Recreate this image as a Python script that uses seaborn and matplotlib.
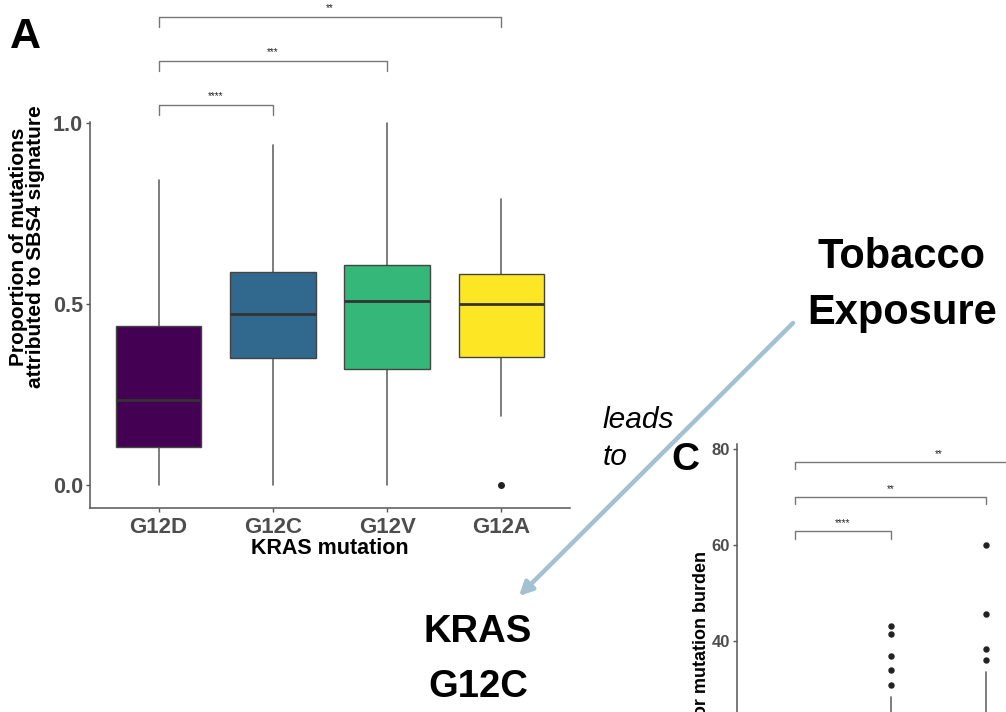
import numpy as np
import matplotlib
matplotlib.use("Agg")
import matplotlib.pyplot as plt
from matplotlib.patches import FancyArrowPatch
import seaborn as sns

# panel A data
mutations = ["G12D", "G12C", "G12V", "G12A"]
a_q1 = [0.106, 0.350, 0.320, 0.353]
a_med = [0.235, 0.472, 0.508, 0.500]
a_q3 = [0.440, 0.589, 0.609, 0.583]
a_lo = [0.0, 0.0, 0.0, 0.19]
a_hi = [0.843, 0.939, 1.0, 0.789]
a_fliers = [[], [], [], [0.0]]
a_yticks = [0.0, 0.5, 1.0]
a_pairs = [(0, 1, "****"), (0, 2, "***"), (0, 3, "**")]
a_bracket_y = [1.05, 1.171, 1.293]

# panel C data (only the top part is visible)
c_q1 = [2, 3, 3, 3]
c_med = [4, 7, 7, 6]
c_q3 = [8, 13, 14, 11]
c_lo = [0, 0, 0, 0]
c_hi = [22, 28.2, 33.4, 25]
c_fliers = [[], [43.0, 41.5, 36.9, 34.0, 30.7], [59.9, 45.6, 38.3, 36.1], []]
c_yticks = [40, 60, 80]
c_pairs = [(0, 1, "****"), (0, 2, "**"), (0, 3, "**")]
c_bracket_y = [62.8, 70.0, 77.3]

sns.set_theme(style="ticks")
plt.rcParams["font.family"] = ["Liberation Sans", "DejaVu Sans"]
plt.rcParams["text.color"] = "black"
plt.rcParams["axes.labelcolor"] = "black"

W, H = 1006, 712
fig = plt.figure(figsize=(W / 100, H / 100), dpi=100)
pal = plt.cm.viridis(np.linspace(0, 1, 4))
tick_col = "#4D4D4D"
line_col = "#555555"


def stats(q1, med, q3, lo, hi, fl):
    return [dict(q1=q1[i], med=med[i], q3=q3[i], whislo=lo[i], whishi=hi[i],
                 fliers=fl[i], label=mutations[i]) for i in range(len(q1))]


def draw_boxes(ax, st, ms):
    bp = ax.bxp(st, positions=range(4), widths=0.75, patch_artist=True,
                showcaps=False,
                boxprops=dict(edgecolor="#444444", linewidth=1.0),
                medianprops=dict(color="#333333", linewidth=2.0),
                whiskerprops=dict(color="#666666", linewidth=1.2),
                flierprops=dict(marker="o", markersize=ms, markerfacecolor="#222222",
                                markeredgecolor="#222222"))
    for patch, c in zip(bp["boxes"], pal):
        patch.set_facecolor(c)
    for w in bp["whiskers"]:
        w.set_zorder(0.5)


def brackets(ax, pairs, ys, tip, pad):
    for (i, j, lab), y in zip(pairs, ys):
        ax.plot([i, i, j, j], [y - tip, y, y, y - tip], color="#777777",
                linewidth=1.0, clip_on=False)
        ax.text((i + j) / 2, y + pad, lab, ha="center", va="bottom",
                fontsize=7, color="#222222", clip_on=False)


def style_axes(ax, xs, ys):
    sns.despine(ax=ax)
    for s in ["left", "bottom"]:
        ax.spines[s].set_color(line_col)
        ax.spines[s].set_linewidth(1.1)
    ax.tick_params(colors=line_col, labelcolor=tick_col, length=3, width=1.0)
    ax.tick_params(axis="x", labelsize=xs)
    ax.tick_params(axis="y", labelsize=ys, pad=2)
    for t in ax.get_xticklabels() + ax.get_yticklabels():
        t.set_fontweight("bold")


# panel A
axA = fig.add_axes([90 / W, 1 - 508 / H, 480 / W, 386 / H])
draw_boxes(axA, stats(a_q1, a_med, a_q3, a_lo, a_hi, a_fliers), 4.0)
axA.set_xlim(-0.6, 3.6)
axA.set_ylim(-0.0635, 1.003)
axA.set_yticks(a_yticks)
axA.set_yticklabels([f"{v:.1f}" for v in a_yticks])
axA.set_xticks(range(4))
axA.set_xticklabels(mutations)
style_axes(axA, 16, 15.5)
axA.set_xlabel("KRAS mutation", fontsize=15.5, fontweight="bold", labelpad=0)
brackets(axA, a_pairs, a_bracket_y, 0.028, 0.012)
fig.text(27 / W, 1 - 247 / H, "Proportion of mutations\nattributed to SBS4 signature",
         rotation=90, ha="center", va="center", fontsize=15, fontweight="bold",
         linespacing=0.92)

# panel C (runs off the edge of the figure)
axC = fig.add_axes([737 / W, 1 - 852 / H, 403 / W, 408 / H])
draw_boxes(axC, stats(c_q1, c_med, c_q3, c_lo, c_hi, c_fliers), 3.6)
axC.set_xlim(-0.6, 3.6)
axC.set_ylim(-4, 81)
axC.set_yticks(c_yticks)
axC.set_xticks(range(4))
axC.set_xticklabels([])
style_axes(axC, 11, 12)
brackets(axC, c_pairs, c_bracket_y, 1.6, 0.6)
fig.text(701 / W, 1 - 652 / H, "Tumor mutation burden", rotation=90,
         ha="center", va="center", fontsize=13, fontweight="bold")

# panel letters
fig.text(10 / W, 1 - 48 / H, "A", fontsize=31, fontweight="bold", va="baseline")
fig.text(671 / W, 1 - 470 / H, "C", fontsize=28, fontweight="bold", va="baseline")

# annotation text and arrow
fig.text(901 / W, 1 - 257 / H, "Tobacco", fontsize=30, fontweight="bold",
         ha="center", va="center")
fig.text(902 / W, 1 - 313 / H, "Exposure", fontsize=30, fontweight="bold",
         ha="center", va="center")
fig.text(603 / W, 1 - 428 / H, "leads", fontsize=21.5, style="italic", va="baseline")
fig.text(603 / W, 1 - 465 / H, "to", fontsize=21.5, style="italic", va="baseline")
fig.text(478 / W, 1 - 632 / H, "KRAS", fontsize=27.5, fontweight="bold",
         ha="center", va="center")
fig.text(478 / W, 1 - 687 / H, "G12C", fontsize=27.5, fontweight="bold",
         ha="center", va="center")
arrow = FancyArrowPatch((795 / W, 1 - 321 / H), (517 / W, 1 - 598 / H),
                        transform=fig.transFigure, arrowstyle="-|>",
                        mutation_scale=20, linewidth=3.2, color="#A2C2D1")
fig.patches.append(arrow)

fig.savefig("out.png", dpi=100)
